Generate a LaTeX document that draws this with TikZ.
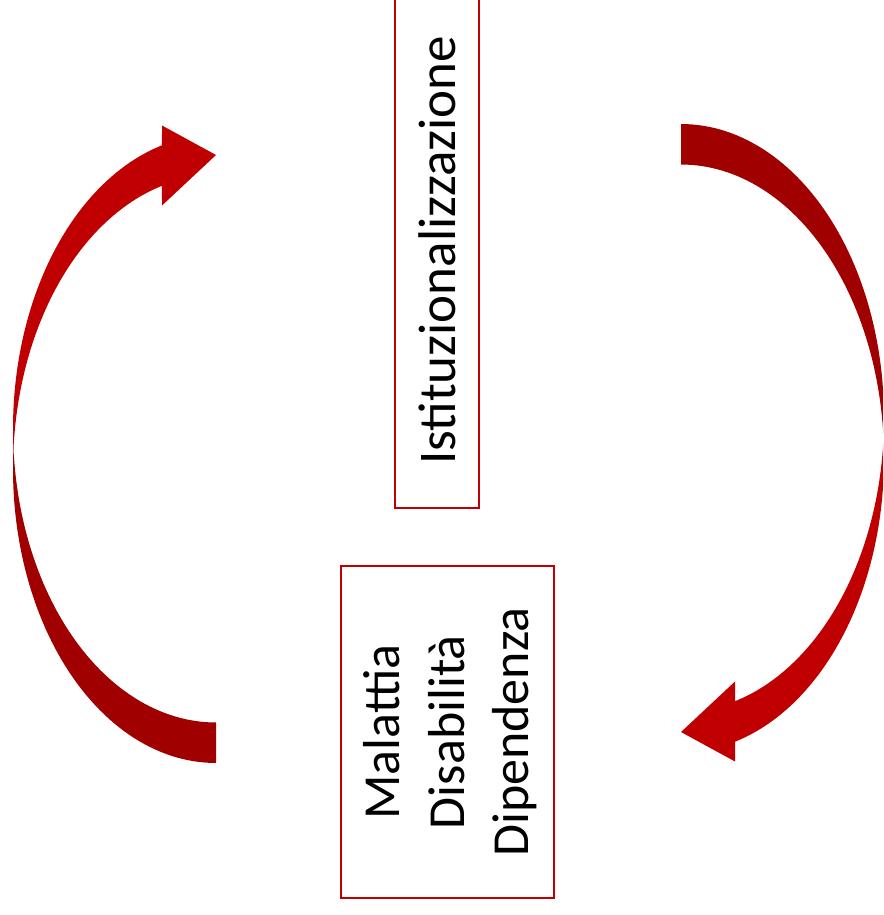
\documentclass[tikz,border=0pt]{standalone}
\usepackage{fontspec}
\setmainfont{Carlito}
\definecolor{boxred}{HTML}{C00000}
\definecolor{arrowfront}{HTML}{C00000}
\definecolor{arrowback}{HTML}{A00000}
\newcommand\cyclearrow{%
  \fill[frontpart]
    plot[domain=180:254.57, samples=60, variable=\t] ({216+203*cos(\t)},{469.1+293.9*sin(\t)})
    -- (162,205.5) -- (216,155) -- (162,125.5)
    -- plot[domain=254.57:180, samples=60, variable=\t] ({216+203*cos(\t)},{428.6+293.9*sin(\t)})
    -- cycle;
  \fill[backpart]
    plot[domain=90:183.95, samples=60, variable=\t] ({216+203*cos(\t)},{469.1+293.9*sin(\t)})
    -- plot[domain=176.05:90, samples=60, variable=\t] ({216+203*cos(\t)},{428.6+293.9*sin(\t)})
    -- cycle;}
\begin{document}
\begin{tikzpicture}[x=1pt,y=-1pt,
  framebox/.style={draw=boxred, line width=1.5pt, inner sep=0pt},
  lbl/.style={font=\fontsize{52}{64.5}\selectfont, text=black, rotate=90, align=center, inner sep=0pt},
  frontpart/.style={fill=arrowfront},
  backpart/.style={fill=arrowback}]
\clip (0,0) rectangle (883,915);
\fill[white] (0,0) rectangle (883,915);
% curved arrows
\cyclearrow
\begin{scope}[rotate around={180:(448.5,443.5)}]
\cyclearrow
\end{scope}
% top box
\node[framebox, minimum width=84pt, minimum height=530pt] (istbox) at (437,243) {};
\node[lbl, anchor=west, font=\fontsize{53}{64.5}\selectfont] (isttext) at (437,465) {Istituzionalizzazione};
% bottom box
\node[framebox, minimum width=213pt, minimum height=332pt] (mdbox) at (447.5,732) {};
\node[lbl] (mdtext) at (450.5,732) {Malattia\\Disabilità\\Dipendenza};
\end{tikzpicture}
\end{document}
